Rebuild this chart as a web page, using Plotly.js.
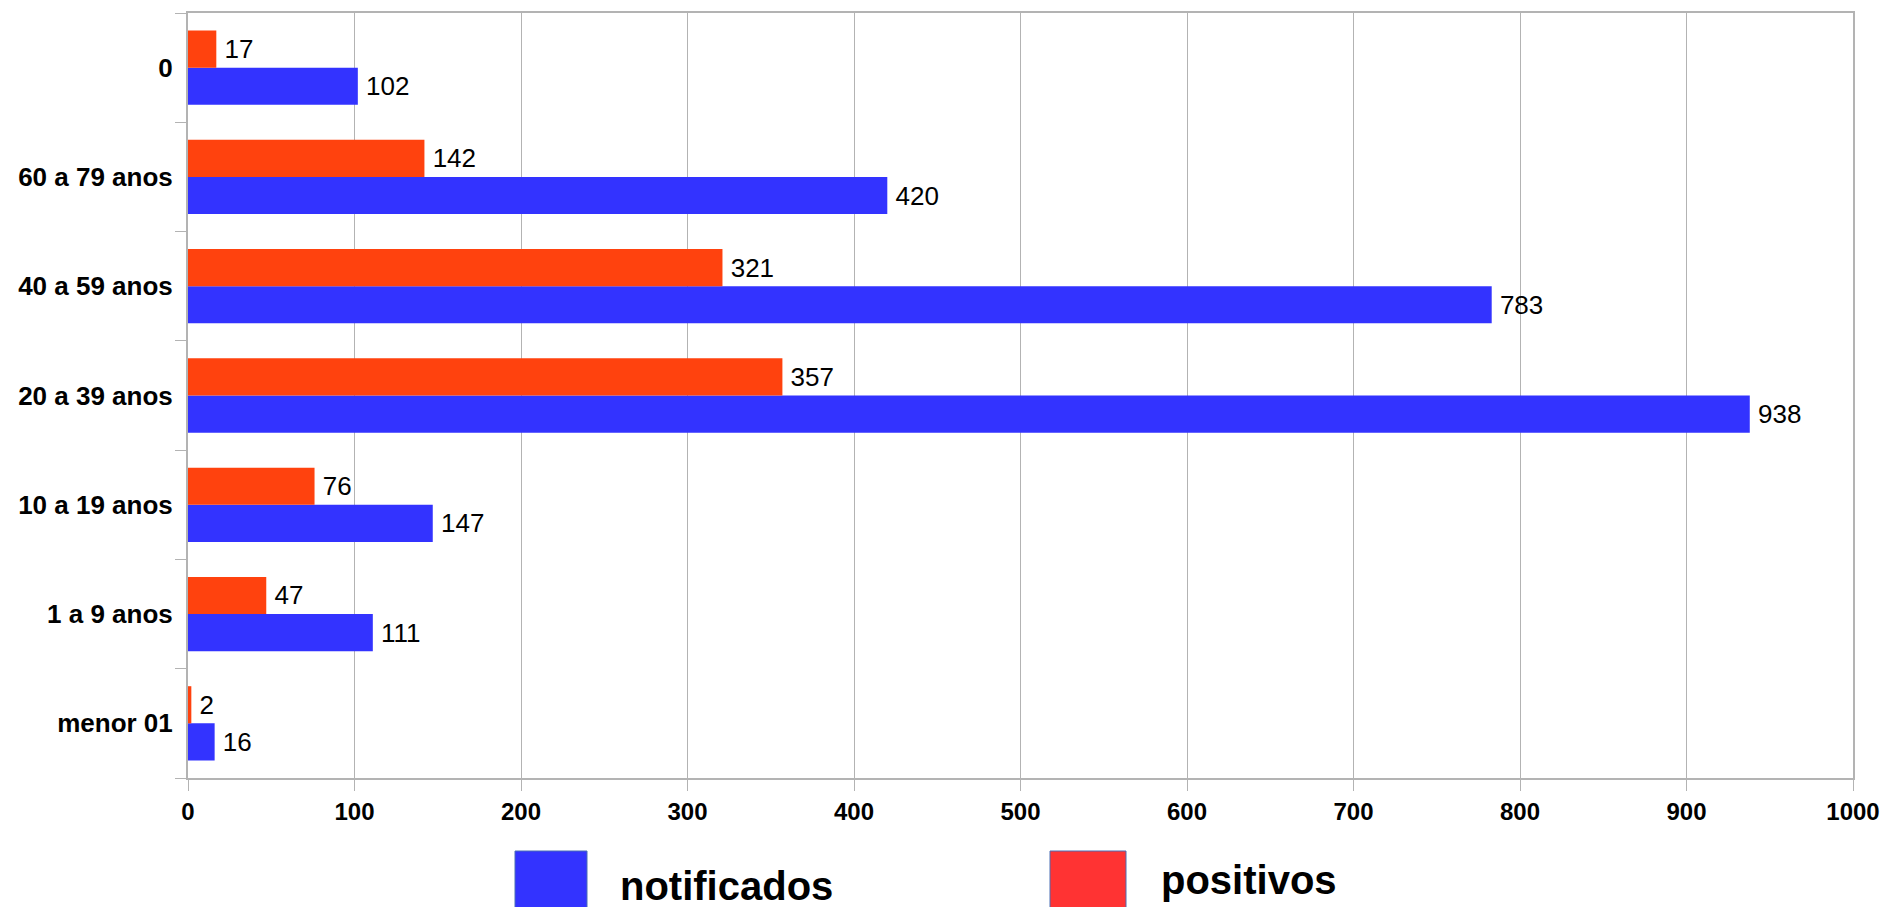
<!DOCTYPE html>
<html>
<head>
<meta charset="utf-8">
<script src="https://cdn.plot.ly/plotly-3.0.1.min.js"></script>
<style>
html,body{margin:0;padding:0;background:#fff;}
#chart{width:1885px;height:907px;}
</style>
</head>
<body>
<div id="chart"></div>
<script>
const categories = ['menor 01', '1 a 9 anos', '10 a 19 anos', '20 a 39 anos', '40 a 59 anos', '60 a 79 anos', '0'];
const notificados = [16, 111, 147, 938, 783, 420, 102];
const positivos = [2, 47, 76, 357, 321, 142, 17];
const seriesNames = ['notificados', 'positivos'];
const barColors = ['#3333ff', '#ff420e'];
const legendColors = ['#3333ff', '#ff3333'];
const xTicks = [0, 100, 200, 300, 400, 500, 600, 700, 800, 900, 1000];

const W = 1885, H = 907;
const mL = 188, mR = 32, mT = 13, mB = 129;
const pw = W - mL - mR, ph = H - mT - mB;
const px = v => (v - mL) / pw;
const py = v => (H - mB - v) / ph;

const FONT = 'Liberation Sans, Arial, sans-serif';

function barTrace(vals, name, color) {
  return {
    type: 'bar', orientation: 'h', name: name,
    x: vals, y: categories,
    marker: {color: color, line: {width: 0}},
    text: vals.map(v => '\u2009' + v), textposition: 'outside',
    textfont: {family: FONT, size: 26, color: '#000'},
    constraintext: 'none', cliponaxis: false,
    hoverinfo: 'x+name'
  };
}

const data = [
  barTrace(notificados, seriesNames[0], barColors[0]),
  barTrace(positivos, seriesNames[1], barColors[1])
];

const legendItems = [
  {sx0: 515, sx1: 587, tx: 618, ty: 886},
  {sx0: 1050, sx1: 1126, tx: 1159, ty: 880}
];

const shapes = legendItems.map((it, i) => ({
  type: 'rect', xref: 'paper', yref: 'paper',
  x0: px(it.sx0), x1: px(it.sx1), y0: py(851), y1: py(945),
  fillcolor: legendColors[i], line: {color: '#4a6fb5', width: 1}
}));

const annotations = legendItems.map((it, i) => ({
  xref: 'paper', yref: 'paper', x: px(it.tx), y: py(it.ty),
  xanchor: 'left', yanchor: 'middle', showarrow: false,
  text: '<b>' + seriesNames[i] + '</b>',
  font: {family: FONT, size: 40, color: '#000'}
}));

const layout = {
  width: W, height: H,
  margin: {l: mL, r: mR, t: mT, b: mB, pad: 0},
  paper_bgcolor: '#fff', plot_bgcolor: '#fff',
  barmode: 'group', bargap: 0.32, bargroupgap: 0,
  showlegend: false,
  font: {family: FONT, color: '#000'},
  xaxis: {
    range: [0, 1000], tickvals: xTicks, ticktext: xTicks.map(String),
    showgrid: true, gridcolor: '#b3b3b3', gridwidth: 1,
    showline: true, linecolor: '#b3b3b3', linewidth: 2, mirror: true,
    ticks: 'outside', ticklen: 11, tickcolor: '#b3b3b3', tickwidth: 1,
    tickfont: {family: FONT, size: 24, color: '#000', weight: 'bold'},
    zeroline: false, fixedrange: true
  },
  yaxis: {
    type: 'category', categoryorder: 'array', categoryarray: categories,
    showgrid: false,
    showline: true, linecolor: '#b3b3b3', linewidth: 2, mirror: true,
    ticks: 'outside', tickson: 'boundaries', ticklen: 11, tickcolor: '#b3b3b3', tickwidth: 1,
    tickfont: {family: FONT, size: 26, color: '#000', weight: 'bold'},
    ticklabelstandoff: 8,
    zeroline: false, fixedrange: true
  },
  shapes: shapes,
  annotations: annotations
};

Plotly.newPlot('chart', data, layout, {displayModeBar: false, staticPlot: true});
</script>
</body>
</html>
